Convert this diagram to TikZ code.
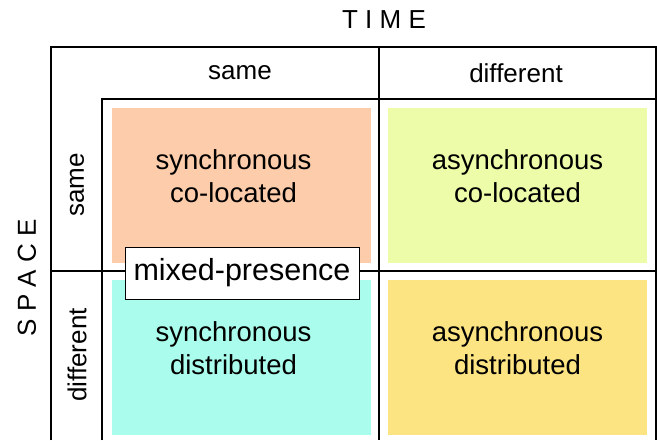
\documentclass[tikz,border=0pt]{standalone}
\usepackage{fontspec}
\setmainfont{Liberation Sans}
\usetikzlibrary{positioning}
\definecolor{peach}{RGB}{253,204,170}
\definecolor{limey}{RGB}{236,252,168}
\definecolor{aqua}{RGB}{170,252,236}
\definecolor{butter}{RGB}{253,228,130}

\begin{document}
\begin{tikzpicture}[x=1pt,y=-1pt,
  cell/.style={minimum width=259pt,minimum height=155pt,inner sep=0pt},
  celltext/.style={align=center,font=\fontsize{27.5}{33}\selectfont},
  head/.style={font=\fontsize{26}{30}\selectfont}]
\useasboundingbox (0,0) rectangle (657,440);
% edit here for the grid lines
\draw[line width=1.3pt] (51,440) -- (51,47) -- (656,47) -- (656,440);
\draw[line width=1.3pt] (102,440) -- (102,99) -- (656,99);
\draw[line width=1.3pt] (379,47) -- (379,440);
\draw[line width=1.3pt] (51,271) -- (656,271);
% edit here for the coloured cells
\node[cell,fill=peach] (syncol) at (241.5,185.5) {};
\node[cell,fill=limey] (asyncol) at (517.5,185.5) {};
\node[cell,fill=aqua] (syndist) at (241.5,357.5) {};
\node[cell,fill=butter] (asyndist) at (517.5,357.5) {};
\node[celltext] (syncoltxt) at ([xshift=-8pt,yshift=9pt]syncol.center) {synchronous\\co-located};
\node[celltext] (asyncoltxt) at ([yshift=9pt]asyncol.center) {asynchronous\\co-located};
\node[celltext] (syndisttxt) at ([xshift=-8pt,yshift=9pt]syndist.center) {synchronous\\distributed};
\node[celltext] (asyndisttxt) at ([yshift=9pt]asyndist.center) {asynchronous\\distributed};
% the box on the border
\node[draw,fill=white,line width=1pt,minimum width=234pt,minimum height=52pt,
  inner sep=0pt,font=\fontsize{30.5}{33}\selectfont] (mixed) at (242,273) {mixed-presence};
% edit here for the headings
\node[head] (time) at (384,20) {T I M E};
\node[head] (tsame) at (240,73) {same};
\node[head] (tdiff) at (516,73) {different};
\node[head,rotate=90] (space) at (27,278) {S P A C E};
\node[head,rotate=90] (ssame) at (77,185) {same};
\node[head,rotate=90] (sdiff) at (77,355) {different};
\end{tikzpicture}
\end{document}
